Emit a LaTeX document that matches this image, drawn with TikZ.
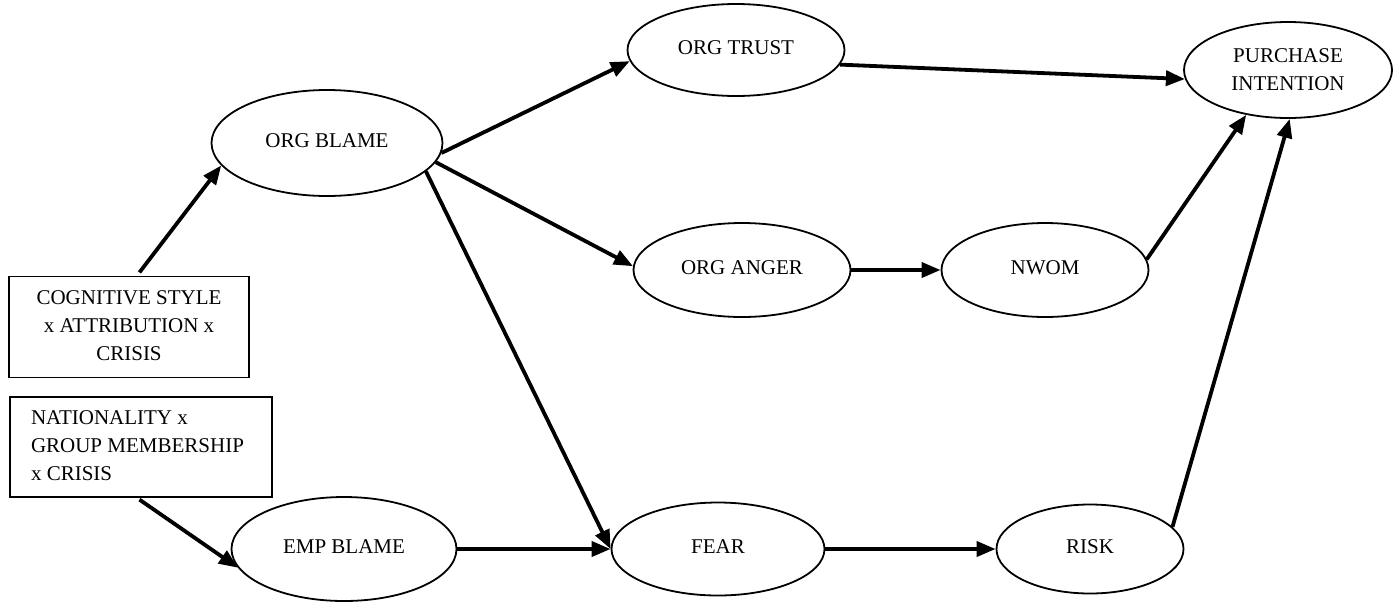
\documentclass[tikz,border=0pt]{standalone}
\usepackage{fontspec}
\setmainfont{Liberation Serif}
\usetikzlibrary{shapes.geometric,arrows.meta}
\newcommand{\up}[1]{\raisebox{5pt}{#1}}
\tikzset{
  ell/.style={ellipse, draw, line width=1.8pt, inner sep=0pt},
  boxnode/.style={rectangle, draw, line width=1.8pt, inner sep=0pt},
  arr/.style={line width=3.8pt, -{Triangle[length=19pt,width=15pt]}},
}
\begin{document}
\begin{tikzpicture}[x=1pt,y=-1pt,font=\fontsize{21}{28}\selectfont]
\useasboundingbox (0,0) rectangle (1394,614);
% boxes
\node[boxnode, minimum width=240pt, minimum height=101pt] (cog) at (129,327)
  {\raisebox{-3pt}{\begin{tabular}{@{}c@{}}COGNITIVE STYLE\\x ATTRIBUTION x\\CRISIS\end{tabular}}};
\node[boxnode, minimum width=262pt, minimum height=100pt] (nat) at (141,447)
  {\raisebox{-3pt}{\begin{tabular}{@{}p{220pt}@{}}NATIONALITY x\\GROUP MEMBERSHIP\\x CRISIS\end{tabular}}};
% ellipses
\node[ell, minimum width=231pt, minimum height=106pt] (orgblame) at (327,143) {\up{ORG BLAME}};
\node[ell, minimum width=217pt, minimum height=92pt] (orgtrust) at (736,50) {\up{ORG TRUST}};
\node[ell, minimum width=208pt, minimum height=96pt, align=center] (purchase) at (1288,70) {PURCHASE\\INTENTION};
\node[ell, minimum width=217pt, minimum height=94pt] (organger) at (742,270) {\up{ORG ANGER}};
\node[ell, minimum width=207pt, minimum height=94pt] (nwom) at (1045,270) {\up{NWOM}};
\node[ell, minimum width=225pt, minimum height=104pt] (empblame) at (344,549) {\up{EMP BLAME}};
\node[ell, minimum width=213pt, minimum height=93pt] (fear) at (718,549) {\up{FEAR}};
\node[ell, minimum width=187pt, minimum height=89pt] (risk) at (1090,549) {\up{RISK}};
% connectors
\draw[arr, shorten <=4pt] ([xshift=8pt]cog.north) -- (orgblame.192);
\draw[arr] (orgblame.-5) -- (orgtrust.186);
\draw[arr] (orgblame.-10) -- (organger.178);
\draw[arr] (orgblame.-16) -- (fear.180);
\draw[arr] (orgtrust.-8) -- (purchase.185);
\draw[arr] (organger) -- (nwom);
\draw[arr] (nwom.6) -- (purchase.-133);
\draw[arr, shorten <=3pt] ([xshift=-4pt]nat.south) -- (empblame.190);
\draw[arr] (empblame) -- (fear);
\draw[arr] (fear) -- (risk);
\draw[arr] (risk.15) -- (purchase.-88);
\end{tikzpicture}
\end{document}
